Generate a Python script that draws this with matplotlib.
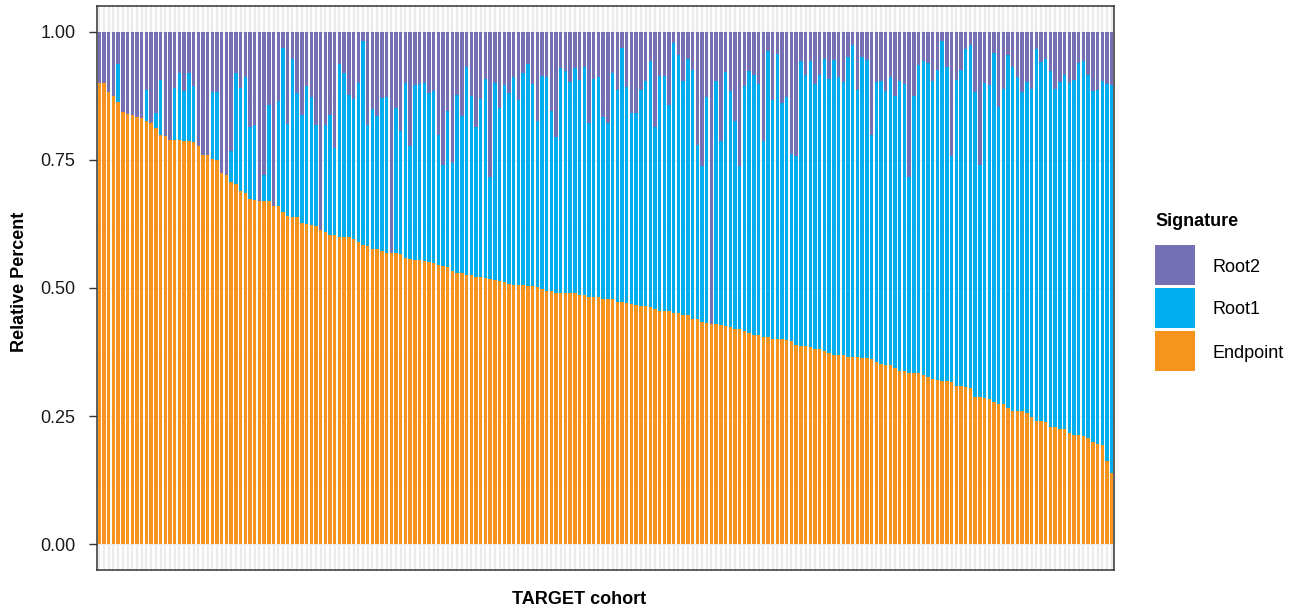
import numpy as np
import matplotlib
matplotlib.use('Agg')
import matplotlib.pyplot as plt
from matplotlib.patches import Rectangle

plt.rcParams['font.family'] = ['Liberation Sans', 'DejaVu Sans']

# values, one bar per sample (216 samples)
endpoint = [
    .900, .900, .882, .874, .862, .843, .840, .837, .834, .831,
    .825, .821, .812, .799, .797, .788, .788, .788, .787, .787,
    .784, .776, .759, .759, .752, .750, .725, .720, .706, .702,
    .689, .686, .674, .671, .670, .669, .669, .659, .659, .649,
    .641, .639, .639, .627, .625, .622, .620, .613, .610, .603,
    .603, .600, .599, .599, .595, .589, .583, .581, .577, .576,
    .572, .569, .569, .569, .567, .558, .556, .554, .554, .552,
    .550, .548, .545, .542, .541, .534, .530, .530, .526, .525,
    .522, .521, .519, .517, .515, .513, .511, .507, .506, .506,
    .506, .503, .503, .501, .499, .495, .494, .491, .491, .491,
    .490, .490, .487, .486, .483, .482, .482, .479, .479, .479,
    .472, .472, .470, .468, .466, .464, .464, .463, .460, .456,
    .456, .455, .452, .451, .448, .448, .440, .439, .433, .431,
    .429, .429, .427, .425, .423, .421, .421, .417, .413, .409,
    .408, .405, .404, .400, .400, .400, .398, .396, .389, .386,
    .386, .385, .382, .381, .378, .373, .370, .370, .369, .366,
    .366, .365, .363, .363, .361, .355, .351, .350, .350, .343,
    .338, .338, .335, .335, .334, .331, .326, .322, .320, .318,
    .318, .316, .308, .308, .307, .304, .288, .287, .285, .283,
    .277, .273, .273, .265, .261, .260, .260, .256, .248, .240,
    .240, .238, .229, .229, .225, .225, .218, .214, .213, .211,
    .207, .199, .195, .194, .162, .140,
]
root1 = [
    0, 0, 0, 0, .074, 0, 0, 0, 0, 0,
    .062, 0, .029, .107, 0, 0, .103, .131, .097, .132,
    .109, 0, 0, 0, .130, .132, 0, 0, .061, .217,
    .202, .226, .140, .146, 0, .052, .187, 0, .205, .320,
    .178, .308, .241, .210, .268, .251, .197, 0, .207, .235,
    .171, .336, .320, .278, .274, .310, .398, .237, .272, .260,
    .298, .304, 0, .283, .240, .341, .220, .342, .343, .348,
    .330, .337, .253, .197, .305, .209, .347, .305, .406, .350,
    .292, .348, .389, .199, .384, .339, .385, .373, .405, .360,
    .413, .433, .394, .325, .414, .416, .351, .303, .439, .432,
    .411, .440, .419, .446, .339, .426, .429, .355, .343, .440,
    .414, .497, .422, .373, .375, .422, .440, .479, .354, .458,
    .458, .401, .526, .503, .455, .499, .486, .339, .305, .441,
    0, .474, .359, .497, .462, .404, .316, .476, .511, .507,
    .489, .381, .559, .466, .557, .461, .474, .366, .369, .556,
    .529, .558, .515, .534, .569, .535, .575, .542, .532, .584,
    .607, .522, .588, .582, .438, .546, .553, .535, .561, .531,
    .566, .559, .382, .540, .600, .611, .613, .582, .606, .663,
    .614, .441, .598, .618, .660, .669, .594, .452, .615, .612,
    .681, .580, .615, .689, .671, .652, .622, .645, .640, .726,
    .700, .709, .695, .659, .676, .690, .682, .692, .726, .732,
    .708, .685, .691, .709, .735, .755,
]
root2 = [
    .100, .100, .118, .126, .064, .157, .160, .163, .166, .169,
    .113, .179, .159, .094, .203, .212, .109, .081, .116, .081,
    .107, .224, .241, .241, .118, .118, .275, .280, .233, .081,
    .109, .088, .186, .183, .330, .279, .144, .341, .136, .031,
    .181, .053, .120, .163, .107, .127, .183, .387, .183, .162,
    .226, .064, .081, .123, .131, .101, .019, .182, .151, .164,
    .130, .127, .431, .148, .193, .101, .224, .104, .103, .100,
    .120, .115, .202, .261, .154, .257, .123, .165, .068, .125,
    .186, .131, .092, .284, .101, .148, .104, .120, .089, .134,
    .081, .064, .103, .174, .087, .089, .155, .206, .070, .077,
    .099, .070, .094, .068, .178, .092, .089, .166, .178, .081,
    .114, .031, .108, .159, .159, .114, .096, .058, .186, .086,
    .086, .144, .022, .046, .097, .053, .074, .222, .262, .128,
    .571, .097, .214, .078, .115, .175, .263, .107, .076, .084,
    .103, .214, .037, .134, .043, .139, .128, .238, .242, .058,
    .085, .057, .103, .085, .053, .092, .055, .088, .099, .050,
    .027, .113, .049, .055, .201, .099, .096, .115, .089, .126,
    .096, .103, .283, .125, .066, .058, .061, .096, .074, .019,
    .068, .243, .094, .074, .033, .027, .118, .261, .100, .105,
    .042, .147, .112, .046, .068, .088, .118, .099, .112, .034,
    .060, .053, .076, .112, .099, .085, .100, .094, .061, .057,
    .085, .116, .114, .097, .103, .105,
]

labels = ['Root2', 'Root1', 'Endpoint']
colors = ['#7570B3', '#00AEEF', '#F7941D']

W, H = 1303, 612
fig = plt.figure(figsize=(W / 100, H / 100), dpi=100)
ax = fig.add_axes([97 / W, 1 - 570 / H, (1114 - 97) / W, (570 - 6) / H])

n = len(endpoint)
x = np.arange(n)
e = np.array(endpoint)
r1 = np.array(root1)
r2 = np.array(root2)

ax.bar(x, e, width=0.72, color=colors[2], linewidth=0)
ax.bar(x, r1, width=0.72, bottom=e, color=colors[1], linewidth=0)
ax.bar(x, r2, width=0.72, bottom=e + r1, color=colors[0], linewidth=0)

ax.set_xlim(-0.5, n - 0.5)
ax.set_ylim(-0.05, 1.05)
ax.set_xticks(x)
ax.set_xticklabels([])
ax.tick_params(axis='x', length=0)
ax.set_yticks([0, 0.25, 0.5, 0.75, 1.0])
ax.set_yticklabels(['0.00', '0.25', '0.50', '0.75', '1.00'])
ax.set_yticks([0.125, 0.375, 0.625, 0.875], minor=True)
ax.tick_params(axis='y', which='major', length=5.5, width=1, color='#333333',
               labelsize=13, labelcolor='#1a1a1a', pad=10)
ax.tick_params(axis='y', which='minor', length=0)

ax.set_axisbelow(True)
ax.grid(axis='x', which='major', color='#EBEBEB', linewidth=1.6)
ax.grid(axis='y', which='major', color='#EBEBEB', linewidth=0.9)
ax.grid(axis='y', which='minor', color='#F2F2F2', linewidth=0.5)
for s in ax.spines.values():
    s.set_color('#333333')
    s.set_linewidth(1.1)

fig.text(20 / W, 1 - 282 / H, 'Relative Percent', rotation=90, ha='center',
         va='center', fontsize=13, fontweight='bold')
fig.text(579 / W, 1 - 604.5 / H, 'TARGET cohort', ha='center', va='baseline',
         fontsize=13, fontweight='bold')

# legend
fig.text(1155 / W, 1 - 226.5 / H, 'Signature', ha='left', va='baseline',
         fontsize=13, fontweight='bold')
key_tops = [245, 288, 331]
for lab, col, top in zip(labels, colors, key_tops):
    fig.patches.append(Rectangle((1155 / W, 1 - (top + 40) / H), 40 / W, 40 / H,
                                 transform=fig.transFigure, facecolor=col,
                                 edgecolor='none'))
    fig.text(1212.5 / W, 1 - (top + 26.5) / H, lab, ha='left', va='baseline',
             fontsize=13)

fig.savefig('out.png', dpi=100)
